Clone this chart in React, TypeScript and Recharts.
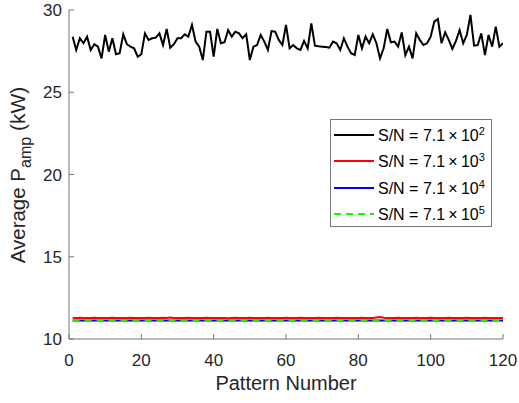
import { LineChart, Line, XAxis, YAxis } from "recharts";

// pattern numbers 1..120
const patterns = Array.from({ length: 120 }, (_, i) => i + 1);

const snr2 = [
  28.38, 27.57, 28.28, 27.98, 28.38, 27.57, 27.92, 27.77, 27.06, 28.48,
  27.47, 28.28, 27.31, 27.37, 28.52, 27.92, 27.77, 27.67, 27.16, 27.31,
  28.58, 28.18, 28.28, 28.32, 28.58, 27.87, 28.85, 27.71, 27.92, 28.28,
  28.28, 28.52, 28.38, 29.09, 28.08, 27.77, 26.96, 28.68, 28.68, 27.16,
  28.85, 27.98, 28.04, 28.78, 28.38, 28.68, 28.58, 28.28, 28.52, 26.96,
  27.77, 27.87, 28.48, 28.08, 27.57, 28.72, 28.68, 28.18, 27.87, 29.09,
  27.67, 27.87, 27.67, 27.57, 28.12, 27.67, 29.19, 27.83, 27.79, 27.77,
  27.75, 27.71, 28.08, 27.98, 27.57, 28.28, 27.77, 27.37, 27.26, 28.48,
  27.67, 28.38, 27.98, 28.52, 27.98, 27.06, 27.67, 28.85, 28.04, 28.08,
  27.77, 28.64, 27.26, 27.77, 27.06, 28.58, 28.18, 27.87, 27.98, 28.38,
  29.29, 29.45, 27.98, 28.64, 28.18, 27.63, 28.12, 28.78, 27.98, 28.48,
  29.7, 27.83, 27.87, 28.58, 27.26, 28.48, 27.77, 28.99, 27.77, 27.98,
];

const snr3 = [
  11.28, 11.27, 11.29, 11.28, 11.27, 11.28, 11.29, 11.27, 11.28, 11.28,
  11.27, 11.29, 11.28, 11.27, 11.28, 11.28, 11.29, 11.27, 11.28, 11.27,
  11.28, 11.29, 11.28, 11.27, 11.28, 11.29, 11.28, 11.3, 11.27, 11.28,
  11.28, 11.27, 11.29, 11.28, 11.28, 11.27, 11.28, 11.29, 11.28, 11.27,
  11.28, 11.28, 11.27, 11.26, 11.28, 11.29, 11.28, 11.27, 11.28, 11.29,
  11.28, 11.27, 11.28, 11.28, 11.29, 11.28, 11.27, 11.28, 11.28, 11.29,
  11.28, 11.27, 11.28, 11.29, 11.28, 11.28, 11.27, 11.28, 11.29, 11.28,
  11.27, 11.28, 11.28, 11.29, 11.28, 11.27, 11.28, 11.28, 11.27, 11.28,
  11.29, 11.28, 11.27, 11.28, 11.31, 11.34, 11.29, 11.28, 11.27, 11.28,
  11.29, 11.28, 11.27, 11.28, 11.28, 11.29, 11.28, 11.27, 11.28, 11.29,
  11.28, 11.28, 11.27, 11.28, 11.29, 11.28, 11.27, 11.28, 11.28, 11.29,
  11.28, 11.27, 11.28, 11.28, 11.29, 11.28, 11.27, 11.28, 11.28, 11.28,
];

const snr4 = [
  11.12, 11.12, 11.13, 11.12, 11.12, 11.12, 11.13, 11.12, 11.12, 11.12,
  11.12, 11.13, 11.12, 11.12, 11.12, 11.12, 11.12, 11.13, 11.12, 11.12,
  11.12, 11.12, 11.12, 11.13, 11.12, 11.12, 11.12, 11.12, 11.13, 11.12,
  11.12, 11.12, 11.12, 11.12, 11.13, 11.12, 11.12, 11.12, 11.12, 11.12,
  11.13, 11.12, 11.12, 11.12, 11.12, 11.12, 11.12, 11.13, 11.12, 11.12,
  11.12, 11.12, 11.13, 11.12, 11.12, 11.12, 11.12, 11.12, 11.12, 11.13,
  11.12, 11.12, 11.12, 11.12, 11.13, 11.12, 11.12, 11.12, 11.12, 11.12,
  11.12, 11.13, 11.12, 11.12, 11.12, 11.12, 11.12, 11.12, 11.13, 11.12,
  11.12, 11.12, 11.12, 11.12, 11.13, 11.12, 11.12, 11.12, 11.12, 11.12,
  11.13, 11.12, 11.12, 11.12, 11.12, 11.12, 11.12, 11.13, 11.12, 11.12,
  11.12, 11.12, 11.12, 11.13, 11.12, 11.12, 11.12, 11.12, 11.12, 11.12,
  11.13, 11.12, 11.12, 11.12, 11.12, 11.12, 11.13, 11.12, 11.12, 11.12,
];

const snr5 = [
  11.13, 11.13, 11.12, 11.13, 11.13, 11.13, 11.12, 11.13, 11.13, 11.13,
  11.13, 11.12, 11.13, 11.13, 11.13, 11.13, 11.13, 11.12, 11.13, 11.13,
  11.13, 11.13, 11.13, 11.12, 11.13, 11.13, 11.13, 11.13, 11.12, 11.13,
  11.13, 11.13, 11.13, 11.13, 11.12, 11.13, 11.13, 11.13, 11.13, 11.13,
  11.12, 11.13, 11.13, 11.13, 11.13, 11.13, 11.13, 11.12, 11.13, 11.13,
  11.13, 11.13, 11.12, 11.13, 11.13, 11.13, 11.13, 11.13, 11.13, 11.12,
  11.13, 11.13, 11.13, 11.13, 11.12, 11.13, 11.13, 11.13, 11.13, 11.13,
  11.13, 11.12, 11.13, 11.13, 11.13, 11.13, 11.13, 11.13, 11.12, 11.13,
  11.13, 11.13, 11.13, 11.13, 11.12, 11.13, 11.13, 11.13, 11.13, 11.13,
  11.12, 11.13, 11.13, 11.13, 11.13, 11.13, 11.13, 11.12, 11.13, 11.13,
  11.13, 11.13, 11.13, 11.12, 11.13, 11.13, 11.13, 11.13, 11.13, 11.13,
  11.12, 11.13, 11.13, 11.13, 11.13, 11.13, 11.12, 11.13, 11.13, 11.13,
];

const xTicks = [0, 20, 40, 60, 80, 100, 120];
const yTicks = [10, 15, 20, 25, 30];

const series = [
  { key: "s2", exp: "2", color: "#000000", dash: undefined },
  { key: "s3", exp: "3", color: "#ff0000", dash: undefined },
  { key: "s4", exp: "4", color: "#0000ff", dash: undefined },
  { key: "s5", exp: "5", color: "#00ff00", dash: "7 5" },
];

const data = patterns.map((p, i) => ({
  x: p,
  s2: snr2[i],
  s3: snr3[i],
  s4: snr4[i],
  s5: snr5[i],
}));

const FONT = "'Liberation Sans', Arial, sans-serif";
const AXIS = "#777777";
const TEXT = "#262626";

const tickStyle = { fontSize: 17, fill: TEXT, fontFamily: FONT };

const XLabel = () => (
  <text x={286} y={390} textAnchor="middle" fontSize={20} fill={TEXT} fontFamily={FONT}>
    Pattern Number
  </text>
);

const YLabel = () => (
  <text
    transform="translate(25,175) rotate(-90)"
    textAnchor="middle"
    fontSize={20.5}
    fill={TEXT}
    fontFamily={FONT}
  >
    Average P
    <tspan fontSize={16} dy={5.5}>
      amp
    </tspan>
    <tspan dy={-5.5} fontSize={21}> (kW)</tspan>
  </text>
);

export default function App() {
  return (
    <div style={{ position: "absolute", left: 0, top: 0, width: 519, height: 403, background: "#fff" }}>
      <LineChart
        width={519}
        height={403}
        data={data}
        margin={{ top: 10, right: 16, bottom: 34, left: 9 }}
      >
        <XAxis
          dataKey="x"
          type="number"
          domain={[0, 120]}
          ticks={xTicks}
          allowDataOverflow
          height={30}
          tickSize={-5}
          tickMargin={20}
          stroke={AXIS}
          tick={tickStyle}
          label={XLabel}
        />
        <XAxis
          xAxisId="top"
          orientation="top"
          type="number"
          domain={[0, 120]}
          ticks={xTicks}
          allowDataOverflow
          height={0}
          tickSize={-5}
          stroke={AXIS}
          tick={() => <g />}
        />
        <YAxis
          type="number"
          domain={[10, 30]}
          ticks={yTicks}
          allowDataOverflow
          width={60}
          tickSize={-5}
          tickMargin={12}
          stroke={AXIS}
          tick={tickStyle}
          label={YLabel}
        />
        <YAxis
          yAxisId="right"
          orientation="right"
          type="number"
          domain={[10, 30]}
          ticks={yTicks}
          allowDataOverflow
          width={0}
          tickSize={-5}
          stroke={AXIS}
          tick={() => <g />}
        />
        {series.map((s) => (
          <Line
            key={s.key}
            dataKey={s.key}
            type="linear"
            stroke={s.color}
            strokeWidth={2}
            strokeDasharray={s.dash}
            dot={false}
            activeDot={false}
            isAnimationActive={false}
          />
        ))}
      </LineChart>
      <div
        style={{
          position: "absolute",
          left: 330,
          top: 119,
          width: 162,
          height: 108,
          boxSizing: "border-box",
          border: "1px solid #777",
          background: "#fff",
          fontFamily: FONT,
        }}
      >
        {series.map((s, i) => (
          <div
            key={s.key}
            style={{ position: "absolute", left: 3, top: 4 + i * 26.4, height: 22, display: "flex", alignItems: "center" }}
          >
            <svg width={40} height={22}>
              <line x1={0} x2={40} y1={11} y2={11} stroke={s.color} strokeWidth={2} strokeDasharray={s.dash} />
            </svg>
            <span style={{ fontSize: 16, color: "#000", marginLeft: 4, whiteSpace: "nowrap" }}>
              S/N = 7.1{"\u2009\u00d7\u2009"}10<sup style={{ fontSize: 11, verticalAlign: "6px" }}>{s.exp}</sup>
            </span>
          </div>
        ))}
      </div>
    </div>
  );
}
